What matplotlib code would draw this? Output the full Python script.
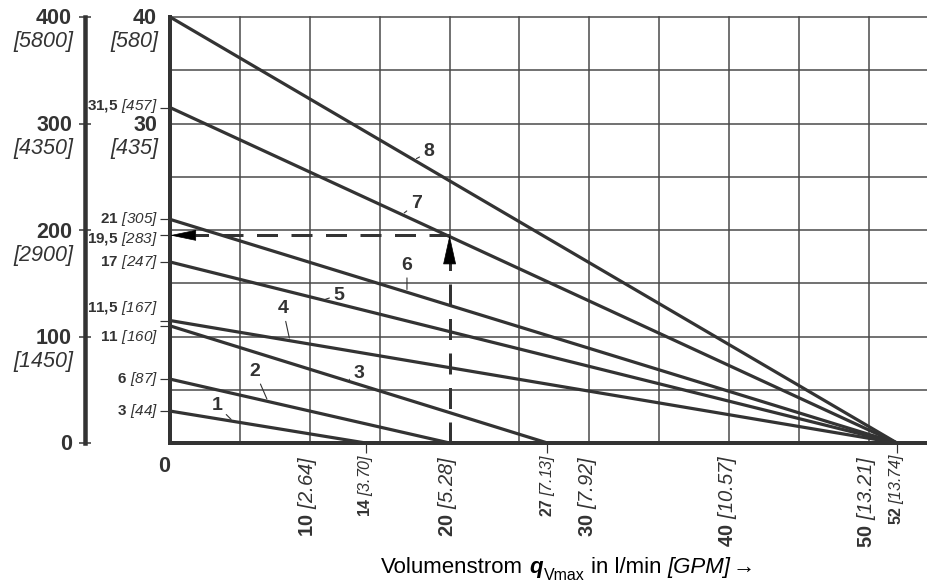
import matplotlib
matplotlib.use("Agg")
import matplotlib.pyplot as plt
from matplotlib import font_manager

# curves: pressure (bar) at q = 0 and flow (l/min) at p = 0
curve_names = ["1", "2", "3", "4", "5", "6", "7", "8"]
curve_p0 = [3, 6, 11, 11.5, 17, 21, 31.5, 40]
curve_q0 = [14, 20, 27, 52, 52, 52, 52, 52]

# small pressure ticks on the inner axis: bar [psi]
p_ticks = [3, 6, 11, 11.5, 17, 19.5, 21, 31.5]
p_tick_bar = ["3", "6", "11", "11{,}5", "17", "19{,}5", "21", "31{,}5"]
p_tick_psi = ["44", "87", "160", "167", "247", "283", "305", "457"]

p_major = [30, 40]
p_major_psi = ["435", "580"]

# outer pressure scale
p_outer = [0, 100, 200, 300, 400]
p_outer_psi = ["", "1450", "2900", "4350", "5800"]

# flow axis: l/min [GPM]
q_major = [10, 20, 30, 40, 50]
q_major_gpm = ["2.64", "5.28", "7.92", "10.57", "13.21"]
q_minor = [14, 27, 52]
q_minor_gpm = ["3.70", "7.13", "13.74"]

example_q = 20
example_p = 19.5

# ---- layout ----
W, H = 928, 582
PT = 0.72          # points per pixel at dpi 100
X_PX = 13.98       # pixels per l/min
Y_PX = 10.65       # pixels per bar
LINE = "#333333"
GRID = "#474747"

names = {f.name for f in font_manager.fontManager.ttflist}
FONT = "Liberation Sans" if "Liberation Sans" in names else "DejaVu Sans"

plt.rcParams["font.family"] = [FONT, "DejaVu Sans"]
plt.rcParams["mathtext.fontset"] = "custom"
plt.rcParams["mathtext.rm"] = FONT
plt.rcParams["mathtext.bf"] = FONT + ":bold"
plt.rcParams["mathtext.sf"] = FONT + ":italic"   # \mathit would keep digits upright

BIG = 15.5
SMALL = 11

fig = plt.figure(figsize=(9.28, 5.82), dpi=100)
ax = fig.add_axes([170 / W, 139 / H, 758 / W, 426 / H])
xmax = 758 / X_PX
ax.set_xlim(0, xmax)
ax.set_ylim(0, 40)
ax.patch.set_visible(False)

# grid (the line at the example flow is replaced by the dashed line below the curve)
for gx in range(5, 55, 5):
    y0 = example_p if gx == example_q else 0
    ax.plot([gx, gx], [y0, 40], color=GRID, lw=1.5 * PT, zorder=1, clip_on=False)
for gy in range(5, 45, 5):
    ax.plot([0, xmax], [gy, gy], color=GRID, lw=1.5 * PT, zorder=1, clip_on=False)

for s in ["top", "right"]:
    ax.spines[s].set_visible(False)
for s in ["left", "bottom"]:
    ax.spines[s].set_linewidth(4 * PT)
    ax.spines[s].set_color(LINE)
    ax.spines[s].set_zorder(5)

ax.set_xticks(q_minor)
ax.set_yticks(p_ticks)
ax.tick_params(length=10 * PT, width=1.2 * PT, color=LINE, direction="out",
               labelbottom=False, labelleft=False)

# curves
for p0, q0 in zip(curve_p0, curve_q0):
    ax.plot([0, q0], [p0, 0], color=LINE, lw=3.2 * PT, zorder=3,
            solid_capstyle="butt", clip_on=False)

# curve labels with leaders
label_at = [4.51, 7.01, 12.66, 8.58, 10.94, 16.95, 16.6, 17.45]
label_off = [(-16, 16), (-13, 30), (12, 7), (-7, 32), (16, 5), (0, 27), (14, 11), (15, 8)]
for name, p0, q0, lx, (dx, dy) in zip(curve_names, curve_p0, curve_q0, label_at, label_off):
    ly = p0 * (1 - lx / q0)
    ax.annotate(name, xy=(lx, ly), xytext=(dx * PT, dy * PT), textcoords="offset points",
                ha="center", va="center", fontsize=14, fontweight="bold", color=LINE,
                arrowprops=dict(arrowstyle="-", lw=0.8, color=LINE, shrinkA=1, shrinkB=2))

# worked example: dashed lines with arrow heads
dash = (0, (7, 4.5))
hx = 25 / X_PX
hy = 28 / Y_PX
ax.plot([example_q, hx], [example_p, example_p], ls=dash, lw=3 * PT, color=LINE, zorder=4)
ax.plot([example_q, example_q], [0, example_p - hy], ls=dash, lw=3 * PT, color=LINE, zorder=4)
ax.annotate("", xy=(0, example_p), xytext=(hx, example_p),
            arrowprops=dict(arrowstyle=f"-|>,head_length={24 * PT},head_width={5 * PT}",
                            mutation_scale=1, shrinkA=0, shrinkB=0, color="black", lw=0.5),
            zorder=6)
ax.annotate("", xy=(example_q, example_p), xytext=(example_q, example_p - hy),
            arrowprops=dict(arrowstyle=f"-|>,head_length={27 * PT},head_width={6 * PT}",
                            mutation_scale=1, shrinkA=0, shrinkB=0, color="black", lw=0.5),
            zorder=6)

# inner pressure labels
for v, b, p in zip(p_ticks, p_tick_bar, p_tick_psi):
    dy = {11.5: 13, 11: -11, 19.5: -4, 31.5: 2}.get(v, 0)
    ax.annotate(rf"$\mathbf{{{b}}}\ \mathsf{{[{p}]}}$", xy=(0, v), xytext=(-12 * PT, dy * PT),
                textcoords="offset points", ha="right", va="center", fontsize=SMALL, color=LINE)
for v, p in zip(p_major, p_major_psi):
    ax.annotate(str(v), xy=(0, v), xytext=(-13 * PT, -2 * PT), textcoords="offset points",
                ha="right", va="center", fontsize=BIG, fontweight="bold", color=LINE)
    ax.annotate(f"[{p}]", xy=(0, v), xytext=(-12 * PT, -25 * PT), textcoords="offset points",
                ha="right", va="center", fontsize=BIG, style="italic", color=LINE)
ax.annotate("0", xy=(0, 0), xytext=(-6 * PT, -23 * PT), textcoords="offset points",
            ha="center", va="center", fontsize=BIG, fontweight="bold", color=LINE)

# flow labels (rotated)
for v, g in zip(q_major, q_major_gpm):
    ax.annotate(rf"$\mathbf{{{v}}}\ \mathsf{{[{g}]}}$", xy=(v, 0), xytext=(-2 * PT, -12 * PT),
                textcoords="offset points", ha="center", va="top", rotation=90,
                fontsize=14.5, color=LINE)
for v, g in zip(q_minor, q_minor_gpm):
    ax.annotate(rf"$\mathbf{{{v}}}\:\mathsf{{[{g}]}}$", xy=(v, 0), xytext=(0, -10 * PT),
                textcoords="offset points", ha="center", va="top", rotation=90,
                fontsize=11.5, color=LINE)

# outer pressure scale
ax_out = fig.add_axes([85 / W, 139 / H, 0.0001, 426 / H])
ax_out.set_ylim(0, 400)
ax_out.patch.set_visible(False)
for s in ["top", "right", "bottom"]:
    ax_out.spines[s].set_visible(False)
ax_out.spines["left"].set_linewidth(4.5 * PT)
ax_out.spines["left"].set_color(LINE)
ax_out.set_xticks([])
ax_out.set_yticks(p_outer)
ax_out.tick_params(axis="y", direction="inout", length=12 * PT, width=1.5 * PT,
                   color=LINE, labelleft=False)
for v, p in zip(p_outer, p_outer_psi):
    ax_out.annotate(str(v), xy=(0, v), xytext=(-13 * PT, -2 * PT), textcoords="offset points",
                    ha="right", va="center", fontsize=BIG, fontweight="bold", color=LINE,
                    annotation_clip=False)
    if p:
        ax_out.annotate(f"[{p}]", xy=(0, v), xytext=(-12 * PT, -25 * PT), textcoords="offset points",
                        ha="right", va="center", fontsize=BIG, style="italic", color=LINE,
                        annotation_clip=False)

# x axis title, built piece by piece
TS = 16
t0 = fig.text(381 / W, (H - 573) / H, "Volumenstrom", fontsize=TS, va="baseline")
t1 = ax.annotate("q", xy=(1, 0), xycoords=t0, xytext=(4.5, 0), textcoords="offset points",
                 fontsize=TS, fontweight="bold", style="italic", va="bottom")
t2 = ax.annotate("Vmax", xy=(1, 0), xycoords=t1, xytext=(0.5, -3.5), textcoords="offset points",
                 fontsize=11.5, va="bottom")
t3 = ax.annotate("in l/min", xy=(1, 0), xycoords=(t2, t1), xytext=(4.5, 0), textcoords="offset points",
                 fontsize=TS, va="bottom")
t4 = ax.annotate("[GPM]", xy=(1, 0), xycoords=t3, xytext=(4.5, 0), textcoords="offset points",
                 fontsize=TS, style="italic", va="bottom")
ax.annotate("\u2192", xy=(1, 0), xycoords=t4, xytext=(1.5, 0), textcoords="offset points",
            fontsize=TS, va="bottom")

fig.savefig("out.png", dpi=100)
